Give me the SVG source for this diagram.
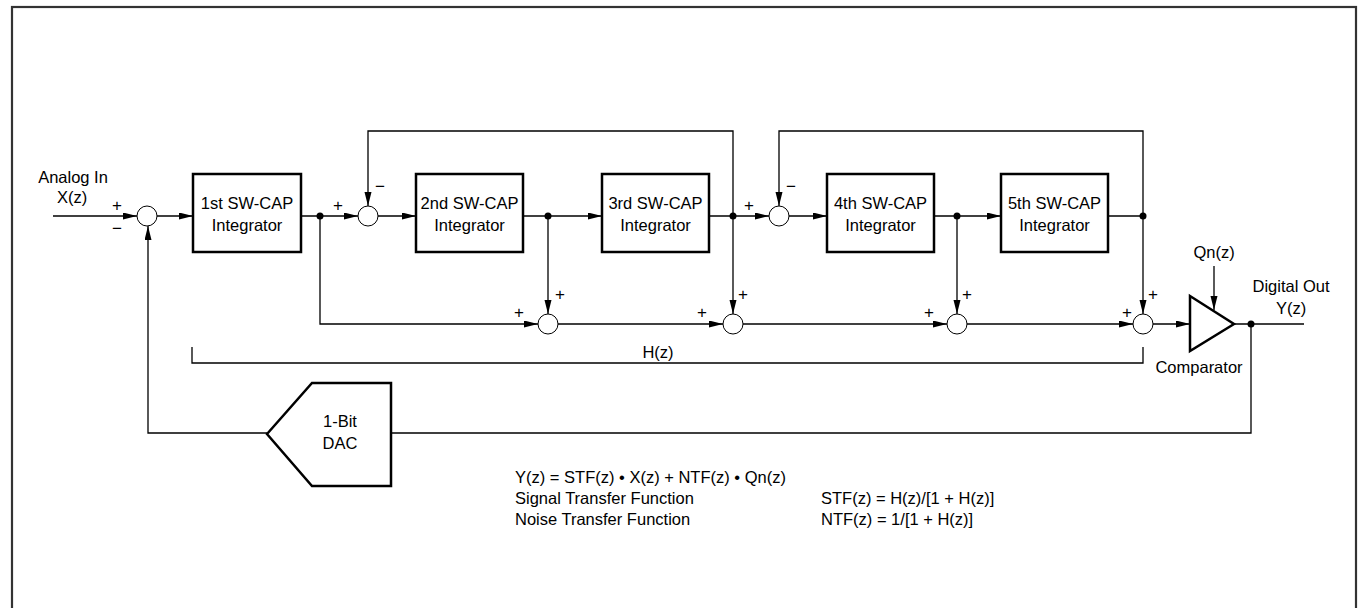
<svg xmlns="http://www.w3.org/2000/svg" width="1360" height="608" viewBox="0 0 1360 608">
<style>
text{font-family:"Liberation Sans",Arial,sans-serif;font-size:16.5px;fill:#000}
.c{text-anchor:middle}
.s{font-size:17px}
.box{fill:#fff;stroke:#000;stroke-width:2.5}
.sum{fill:#fff;stroke:#000;stroke-width:1}
.w{fill:none;stroke:#000;stroke-width:1.3}
.a{marker-end:url(#ah)}
.dot{fill:#000}
</style>
<defs>
<marker id="ah" markerUnits="userSpaceOnUse" markerWidth="15" markerHeight="8" refX="14" refY="3.5" orient="auto">
<path d="M0,0 L14,3.5 L0,7 z" fill="#000"/>
</marker>
</defs>
<rect x="12" y="7" width="1344" height="620" fill="#fff" stroke="#333" stroke-width="2.2"/>

<g id="connectors">
<path class="w a" d="M53,216 H137"/>
<path class="w a" d="M157,216 H193"/>
<path class="w a" d="M301,216 H358"/>
<path class="w a" d="M378,216 H416"/>
<path class="w a" d="M523,216 H602"/>
<path class="w a" d="M709,216 H769"/>
<path class="w a" d="M789,216 H827"/>
<path class="w a" d="M934,216 H1001"/>
<path class="w" d="M1108,216 H1143"/>
<path class="w a" d="M733,216 V131 H368 V206"/>
<path class="w a" d="M1143,216 V131 H779 V206"/>
<path class="w a" d="M1143,216 V314"/>
<path class="w a" d="M733,216 V314"/>
<path class="w a" d="M548,216 V314"/>
<path class="w a" d="M957,216 V314"/>
<path class="w a" d="M320,216 V324 H538"/>
<path class="w a" d="M558,324 H723"/>
<path class="w a" d="M743,324 H947"/>
<path class="w a" d="M967,324 H1133"/>
<path class="w a" d="M1153,324 H1190"/>
<path class="w a" d="M1214,266 V310"/>
<path class="w" d="M1234,324 H1304"/>
<path class="w" d="M1251,324 V433 H391"/>
<path class="w a" d="M267,433 H148 V226"/>
<path class="w" d="M192,347 V363 H1143 V347"/>
<circle class="dot" cx="320" cy="216" r="3.5"/>
<circle class="dot" cx="548" cy="216" r="3.5"/>
<circle class="dot" cx="733" cy="216" r="3.5"/>
<circle class="dot" cx="957" cy="216" r="3.5"/>
<circle class="dot" cx="1143" cy="216" r="3.5"/>
<circle class="dot" cx="1251" cy="324" r="3.5"/>
</g>

<g id="sum1"><circle class="sum" cx="147" cy="216" r="10"/></g>
<g id="sum2"><circle class="sum" cx="368" cy="216" r="10"/></g>
<g id="sum3"><circle class="sum" cx="779" cy="216" r="10"/></g>
<g id="sumA"><circle class="sum" cx="548" cy="324" r="10"/></g>
<g id="sumB"><circle class="sum" cx="733" cy="324" r="10"/></g>
<g id="sumC"><circle class="sum" cx="957" cy="324" r="10"/></g>
<g id="sumD"><circle class="sum" cx="1143" cy="324" r="10"/></g>

<g id="int1"><rect class="box" x="193" y="174" width="108" height="78"/><text class="c" x="247" y="209">1st SW-CAP</text><text class="c" x="247" y="231">Integrator</text></g>
<g id="int2"><rect class="box" x="416" y="174" width="107" height="78"/><text class="c" x="469.5" y="209">2nd SW-CAP</text><text class="c" x="469.5" y="231">Integrator</text></g>
<g id="int3"><rect class="box" x="602" y="174" width="107" height="78"/><text class="c" x="655.5" y="209">3rd SW-CAP</text><text class="c" x="655.5" y="231">Integrator</text></g>
<g id="int4"><rect class="box" x="827" y="174" width="107" height="78"/><text class="c" x="880.5" y="209">4th SW-CAP</text><text class="c" x="880.5" y="231">Integrator</text></g>
<g id="int5"><rect class="box" x="1001" y="174" width="107" height="78"/><text class="c" x="1054.5" y="209">5th SW-CAP</text><text class="c" x="1054.5" y="231">Integrator</text></g>

<g id="comparator"><path class="box" d="M1190,296 L1234,324 L1190,351 Z"/><text class="c" x="1199" y="373">Comparator</text></g>
<g id="dac"><path class="box" d="M267,434 L312,383 H391 V486 H312 Z"/><text class="c" x="340" y="427">1-Bit</text><text class="c" x="340" y="449">DAC</text></g>

<g id="labels">
<text class="c" x="73" y="183">Analog In</text>
<text class="c" x="72" y="203">X(z)</text>
<text class="c s" x="117" y="211">+</text>
<text class="c s" x="117" y="234">−</text>
<text class="c s" x="338" y="211">+</text>
<text class="c s" x="380" y="192">−</text>
<text class="c s" x="749" y="211">+</text>
<text class="c s" x="791" y="192">−</text>
<text class="c s" x="519" y="318">+</text>
<text class="c s" x="560" y="300">+</text>
<text class="c s" x="702" y="318">+</text>
<text class="c s" x="743" y="300">+</text>
<text class="c s" x="929" y="318">+</text>
<text class="c s" x="967" y="300">+</text>
<text class="c s" x="1127" y="318">+</text>
<text class="c s" x="1153" y="300">+</text>
<text class="c" x="658" y="358">H(z)</text>
<text class="c" x="1214" y="258">Qn(z)</text>
<text class="c" x="1291" y="292">Digital Out</text>
<text class="c" x="1291" y="314">Y(z)</text>
<text x="515" y="483">Y(z) = STF(z) • X(z) + NTF(z) • Qn(z)</text>
<text x="515" y="504">Signal Transfer Function</text>
<text x="515" y="525">Noise Transfer Function</text>
<text x="821" y="504">STF(z) = H(z)/[1 + H(z)]</text>
<text x="821" y="525">NTF(z) = 1/[1 + H(z)]</text>
</g>
</svg>
